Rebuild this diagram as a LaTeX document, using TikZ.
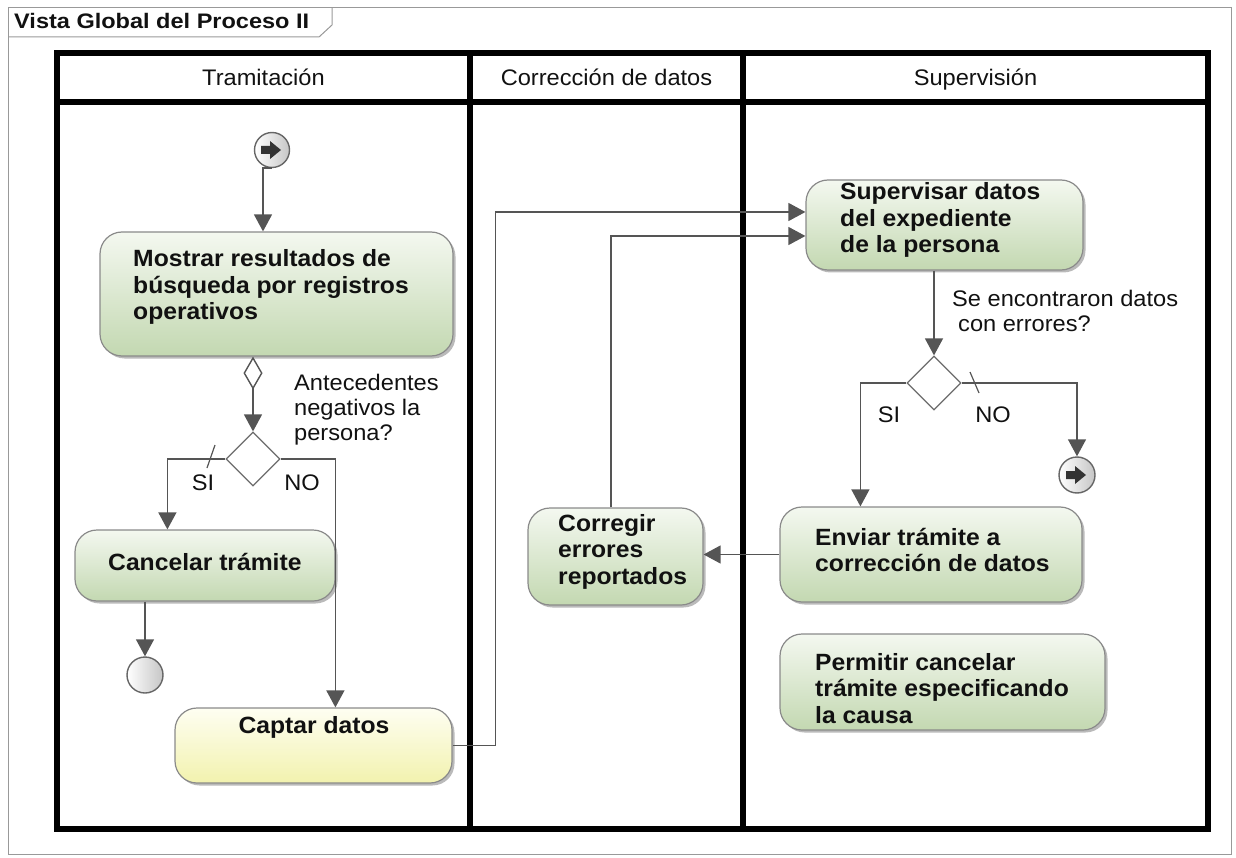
\documentclass[tikz,border=0pt]{standalone}
\usepackage{fontspec}
\usetikzlibrary{arrows.meta,shapes.geometric,shadows}
\newfontfamily\uifont[FakeStretch=1.05]{Liberation Sans}
\newfontfamily\titlefont[FakeStretch=1.12]{Liberation Sans}
\newcommand\boxlines[1]{\begin{tabular}[t]{@{}l@{}}#1\end{tabular}}

\definecolor{flowgray}{HTML}{555555}
\definecolor{boxgray}{HTML}{8A8A8A}
\definecolor{actTop}{HTML}{F4F8F0}
\definecolor{actBot}{HTML}{C3D8B1}
\definecolor{capTop}{HTML}{FEFEF2}
\definecolor{capBot}{HTML}{F2F2AE}
\definecolor{txt}{HTML}{111111}

\tikzset{
  x=1pt, y=-1pt,
  frameline/.style={draw=gray!80, line width=1pt},
  poolline/.style={draw=black, line width=6pt},
  flow/.style={draw=flowgray, line width=1.4pt, -{Triangle[length=17pt,width=18pt]}},
  tickmark/.style={draw=flowgray, line width=1.2pt},
  actbox/.style={draw=boxgray, line width=1.2pt, rounded corners=22pt,
    top color=actTop, bottom color=actBot, inner sep=0pt,
    drop shadow={shadow xshift=2.5pt, shadow yshift=-2.5pt, fill=black!45, opacity=0.6}},
  capbox/.style={actbox, top color=capTop, bottom color=capBot},
  decision/.style={diamond, draw=gray!85!black, line width=1.2pt, fill=white,
    minimum width=54pt, minimum height=54pt, inner sep=0pt},
  roundmark/.style={circle, minimum size=35pt, inner sep=0pt, draw=black!60,
    line width=1.4pt, left color=white, right color=gray!45},
  arrowmark/.style={roundmark, path picture={
    \fill[black!80] ([shift={(-11pt,4pt)}]path picture bounding box.center)
      -- ++(9pt,0pt) -- ++(0pt,5pt) -- ++(11pt,-9pt) -- ++(-11pt,-9pt)
      -- ++(0pt,5pt) -- ++(-9pt,0pt) -- cycle;}},
  boxtext/.style={inner sep=0pt, anchor=base west, text=txt,
    font=\uifont\fontsize{23.5}{26.5}\selectfont\bfseries},
  plaintext/.style={inner sep=0pt, anchor=base west, text=txt,
    font=\uifont\fontsize{22.5}{25}\selectfont},
  lanehead/.style={plaintext, anchor=base},
}

\begin{document}
\begin{tikzpicture}
\useasboundingbox (0,0) rectangle (1236,858);

% outer frame with title tab
\draw[frameline] (8,8) rectangle (1231,854);
\draw[frameline] (8,37) -- (319,37) -- (332,25) -- (332,8);
\node[inner sep=0pt, anchor=base west, text=txt,
  font=\titlefont\fontsize{21}{24}\selectfont\bfseries] (title) at (14,29)
  {Vista Global del Proceso II};

% swimlanes
\draw[poolline] (57,53) rectangle (1208,829);
\draw[poolline] (57,102) -- (1208,102);
\draw[poolline] (470,53) -- (470,829);
\draw[poolline] (743,53) -- (743,829);
\node[lanehead] (laneA) at (263.5,86) {Tramitación};
\node[lanehead] (laneB) at (606.5,86) {Corrección de datos};
\node[lanehead] (laneC) at (975.5,86) {Supervisión};

% activities
\node[actbox, minimum width=353pt, minimum height=124pt] (mostrar) at (276.5,294) {};
\node[boxtext] (mostrarT) at (133,267)
  {\boxlines{Mostrar resultados de\\búsqueda por registros\\operativos}};

\node[actbox, minimum width=260pt, minimum height=71pt] (cancel) at (205,565.5) {};
\node[boxtext] (cancelT) at (108,570) {Cancelar trámite};

\node[capbox, minimum width=277pt, minimum height=75pt] (captar) at (313.5,745.5) {};
\node[boxtext, anchor=base] (captarT) at (314,733) {Captar datos};

\node[actbox, minimum width=175pt, minimum height=97pt] (corregir) at (615.5,556.5) {};
\node[boxtext] (corregirT) at (558,531)
  {\boxlines{Corregir\\errores\\reportados}};

\node[actbox, minimum width=277pt, minimum height=90pt] (superv) at (944.5,225) {};
\node[boxtext] (supervT) at (840,200)
  {\boxlines{Supervisar datos\\del expediente\\de la persona}};

\node[actbox, minimum width=302pt, minimum height=95pt] (enviar) at (931,554.5) {};
\node[boxtext] (enviarT) at (815,545)
  {\boxlines{Enviar trámite a\\corrección de datos}};

\node[actbox, minimum width=325pt, minimum height=96pt] (permitir) at (942.5,682) {};
\node[boxtext] (permitirT) at (815,670)
  {\boxlines{Permitir cancelar\\trámite especificando\\la causa}};

% control nodes
\node[arrowmark] (start) at (272,150) {};
\node[roundmark, minimum size=36pt] (fin) at (145,675) {};
\node[arrowmark, minimum size=36pt] (flowend) at (1077,475) {};
\node[decision] (d1) at (253,459) {};
\node[decision] (d2) at (934,383) {};

% guards and labels
\node[plaintext] (q1) at (294,390) {\boxlines{Antecedentes\\negativos la\\persona?}};
\node[plaintext] (q2) at (952,307) {\boxlines{Se encontraron datos\\\hspace*{6pt}con errores?}};
\node[plaintext, anchor=base] (si1) at (203,490) {SI};
\node[plaintext, anchor=base] (no1) at (302,490) {NO};
\node[plaintext, anchor=base] (si2) at (889,422) {SI};
\node[plaintext, anchor=base] (no2) at (993,422) {NO};
\draw[tickmark] (215,445) -- (207,468);
\draw[tickmark] (970,372) -- (979,393);

% control flow
\draw[flow] (start.south) -- ++(-9,0) coordinate (s1) -- (s1 |- mostrar.north);
\draw[flow, {Diamond[open, fill=white, length=33pt, width=19pt]}-{Triangle[length=17pt,width=18pt]}]
  (d1.north |- mostrar.south) -- (d1.north);
\draw[flow] (d1.west) -| ([xshift=93pt]cancel.north west);
\draw[flow] (d1.east) -| ([xshift=161pt]captar.north west);
\draw[flow] (fin.north |- cancel.south) -- (fin.north);
\draw[flow] (captar.east) -- ++(43,0) |- ([yshift=13pt]superv.west);
\draw[flow] ([xshift=-4.5pt]corregir.north) |- ([yshift=-11pt]superv.west);
\draw[flow] (d2.north |- superv.south) -- (d2.north);
\draw[flow] (d2.west) -| ([xshift=81pt]enviar.north west);
\draw[flow] (d2.east) -| (flowend.north);
\draw[flow] (enviar.west) -- (enviar.west -| corregir.east);
\end{tikzpicture}
\end{document}
